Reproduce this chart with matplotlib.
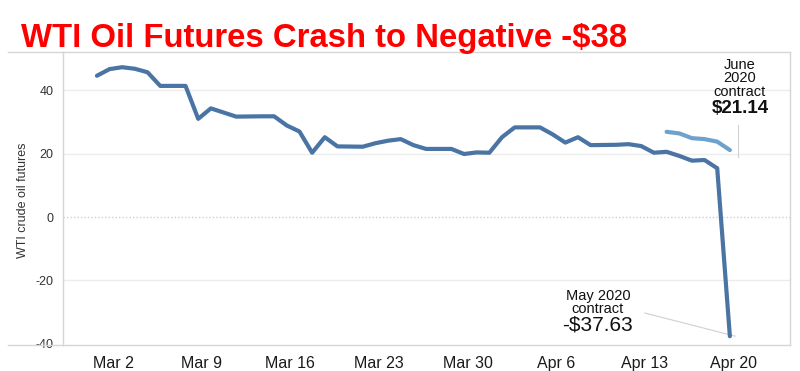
import matplotlib
matplotlib.use("Agg")
import matplotlib.pyplot as plt
from matplotlib.lines import Line2D

plt.rcParams['font.family'] = ['Liberation Sans', 'DejaVu Sans']
plt.rcParams['axes.unicode_minus'] = False

# days counted from Mar 2 2020 (day 0)
may_days = [-1, 0, 1, 2, 3, 4, 6, 7, 8, 10, 12, 13, 14, 15, 16, 17, 18, 20, 21, 22,
            23, 24, 25, 27, 28, 29, 30, 31, 32, 34, 35, 36, 37, 38, 40, 41, 42, 43,
            44, 45, 46, 47, 48, 49]
may_prices = [44.6, 46.7, 47.3, 46.8, 45.7, 41.4, 41.4, 31.0, 34.3, 31.7, 31.8, 31.8,
              28.9, 27.0, 20.3, 25.2, 22.3, 22.2, 23.3, 24.1, 24.6, 22.7, 21.5, 21.5,
              19.9, 20.4, 20.3, 25.2, 28.3, 28.3, 26.1, 23.5, 25.2, 22.7, 22.8, 23.0,
              22.4, 20.3, 20.6, 19.3, 17.8, 18.0, 15.4, -37.63]

june_days = [44, 45, 46, 47, 48, 49]
june_prices = [26.9, 26.4, 24.9, 24.6, 23.8, 21.14]

tick_days = [0, 7, 14, 21, 28, 35, 42, 49]
tick_labels = ["Mar 2", "Mar 9", "Mar 16", "Mar 23", "Mar 30", "Apr 6", "Apr 13", "Apr 20"]

fig = plt.figure(figsize=(8, 3.71), dpi=100)
ax = fig.add_axes([63/800, 1 - 345/371, (790 - 63)/800, (345 - 52)/371])

for y in [-20, 20, 40]:
    ax.axhline(y, color='#ececec', lw=1, zorder=0)
ax.axhline(0, color='#cfcfcf', lw=1, ls=(0, (1, 1.5)), zorder=0)

ax.plot(may_days, may_prices, color='#4a74a3', lw=3, solid_joinstyle='round',
        solid_capstyle='round', zorder=3)
ax.plot(june_days, june_prices, color='#6ea2cd', lw=3, solid_joinstyle='round',
        solid_capstyle='round', zorder=3)

ax.set_xlim(-3.68, 53.75)
ax.set_ylim(-40.4, 52.1)
ax.set_xticks([d + 0.27 for d in tick_days])
ax.set_xticklabels(tick_labels, fontsize=11.5, color='#1a1a1a')
ax.set_yticks([-40, -20, 0, 20, 40])
ax.tick_params(axis='x', length=0, pad=8)
ax.tick_params(axis='y', length=0, pad=7, labelsize=9, labelcolor='#333333')
for s in ax.spines.values():
    s.set_color('#d6d6d6')
    s.set_linewidth(1)

# border lines reaching to the left edge
for yp in [52, 345]:
    fig.add_artist(Line2D([8/800, 63/800], [1 - yp/371, 1 - yp/371],
                          color='#d6d6d6', lw=1))

fig.text(23/800, 1 - 200/371, "WTI crude oil futures", rotation=90, fontsize=9,
         color='#333333', ha='center', va='center')

fig.text(21/800, 1 - 46.7/371, "WTI Oil Futures Crash to Negative -$38", color='#ff0000',
         fontsize=23.7, fontweight='bold', ha='left', va='baseline')

# June contract annotation
ax.text(49.8, 43.8, "June\n2020\ncontract", ha='center', va='center', fontsize=10.5,
        color='#111111', linespacing=0.95)
ax.text(49.8, 34.4, "$21.14", ha='center', va='center', fontsize=13.5,
        fontweight='bold', color='#111111')
ax.plot([49.64, 49.64], [29.1, 19.0], color='#d0d0d0', lw=0.8)

# May contract annotation
ax.text(38.58, -27.0, "May 2020\ncontract", ha='center', va='center', fontsize=10.5,
        color='#111111', linespacing=0.95)
ax.text(38.58, -34.1, "-$37.63", ha='center', va='center', fontsize=15,
        color='#111111')
ax.plot([42.29, 49.4], [-30.3, -37.6], color='#d0d0d0', lw=0.8)

fig.savefig("out.png", dpi=100)
